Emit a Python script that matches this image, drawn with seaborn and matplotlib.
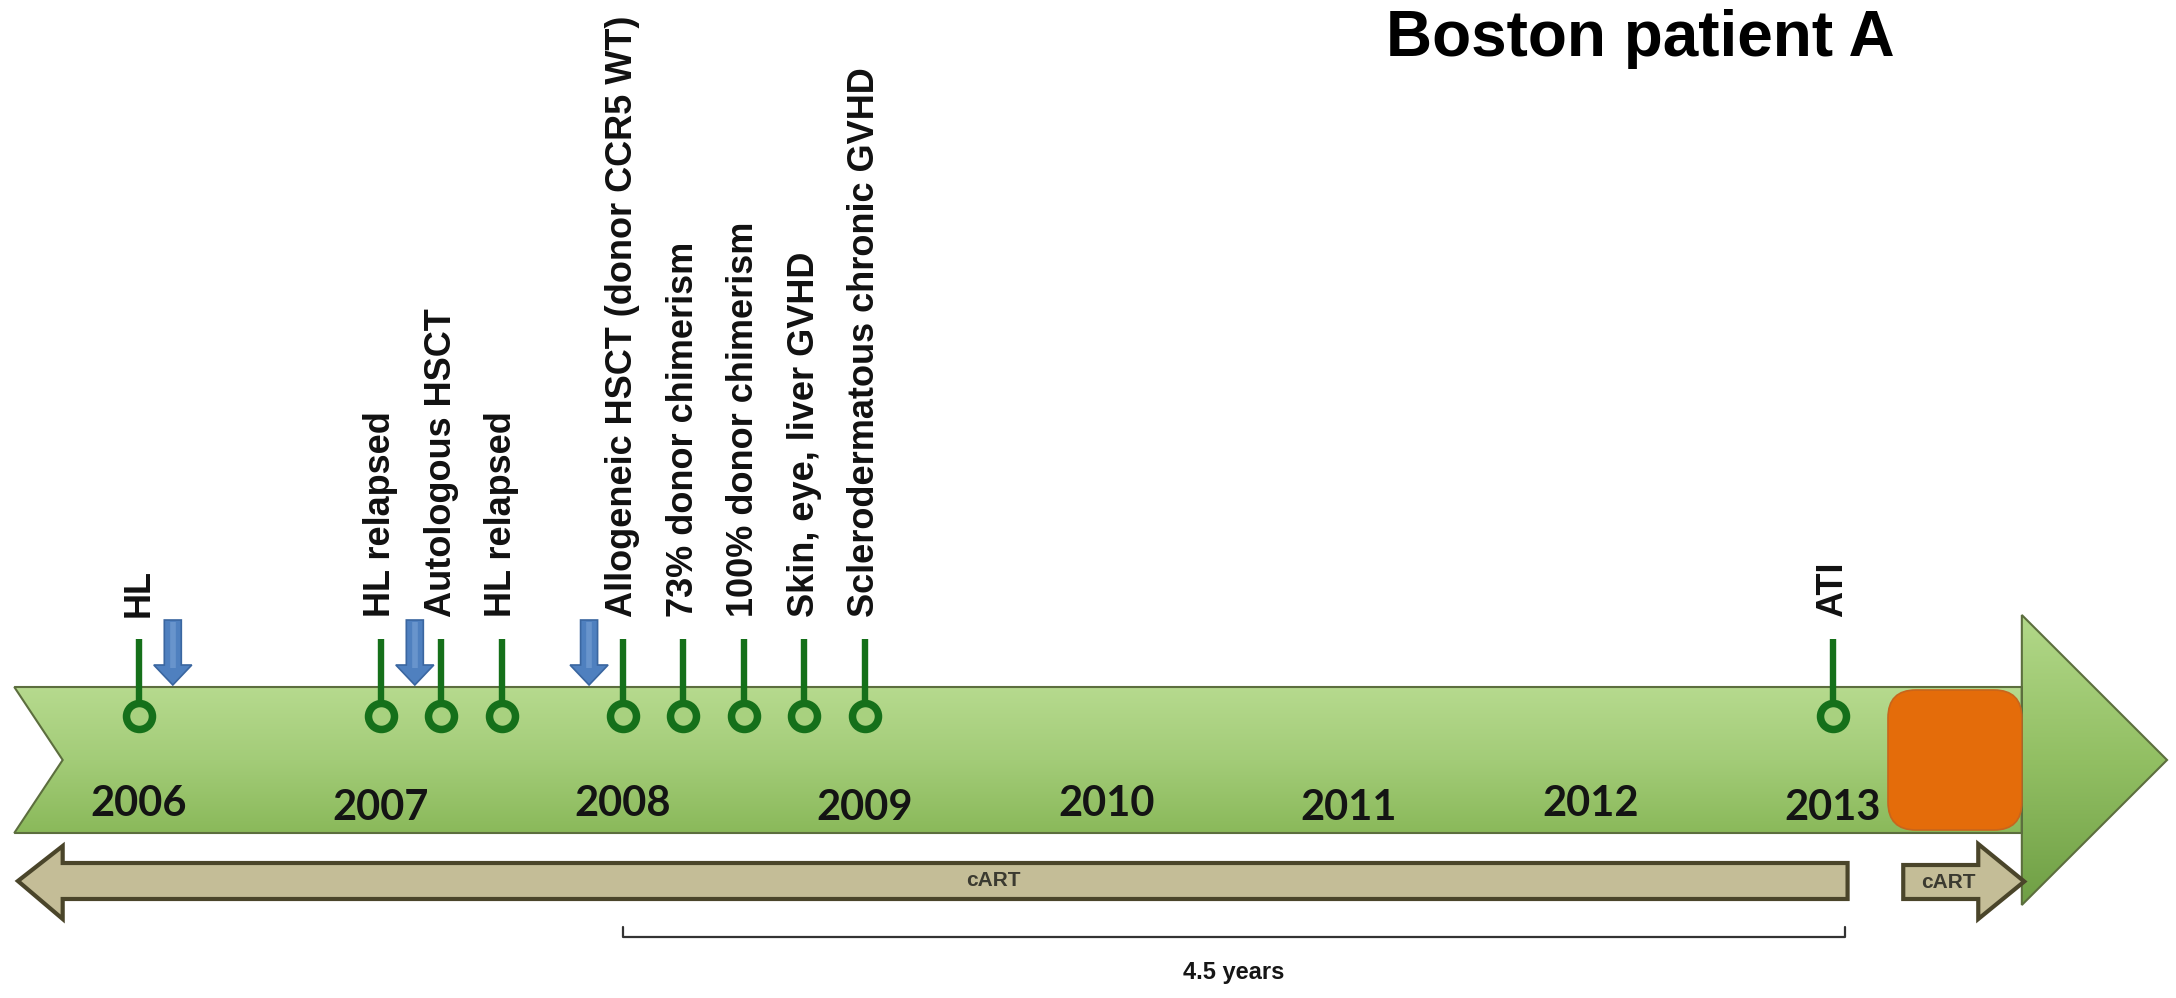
import numpy as np
import matplotlib
matplotlib.use('Agg')
import matplotlib.pyplot as plt
import seaborn as sns
from matplotlib.patches import Polygon, FancyBboxPatch
from matplotlib.colors import LinearSegmentedColormap

sns.set_theme(style='white')
plt.rcParams['font.family'] = ['Liberation Sans', 'DejaVu Sans']

# --- DATA ---
event_labels = ['HL', 'HL relapsed', 'Autologous HSCT', 'HL relapsed',
                'Allogeneic HSCT (donor CCR5 WT)', '73% donor chimerism',
                '100% donor chimerism', 'Skin, eye, liver GVHD',
                'Sclerodermatous chronic GVHD', 'ATI']
event_years = [2006.0, 2007.0, 2007.25, 2007.5, 2008.0, 2008.25,
               2008.5, 2008.75, 2009.0, 2013.0]
blue_arrow_years = [2006.14, 2007.14, 2007.86]
tick_years = [2006, 2007, 2008, 2009, 2010, 2011, 2012, 2013]
cart_period = [2005.5, 2013.06]
cart_resumed = [2013.29, 2013.79]
bracket_period = [2008.0, 2013.05]
bracket_label = '4.5 years'
title = 'Boston patient A'

# --- LAYOUT (x in years, y in pixels from top) ---
W, H = 2176, 998
X0, X1 = 2005.426, 2014.417
PX = (X1 - X0) / W          # years per pixel

band_left, band_notch, band_right, head_tip = 2005.485, 2005.685, 2013.78, 2014.38
band_top, band_bot = 687, 833
band_mid = (band_top + band_bot) / 2
head_top, head_bot = 615, 905

dark_green = '#15701a'
band_cmap = LinearSegmentedColormap.from_list('band', ['#b6da8e', '#a3cc78', '#8ab95a'])
head_cmap = LinearSegmentedColormap.from_list('head', ['#b2d889', '#92bf63', '#6f9f45'])

fig = plt.figure(figsize=(W / 100, H / 100), dpi=100)
ax = fig.add_axes([0, 0, 1, 1])
ax.set_xlim(X0, X1)
ax.set_ylim(H, 0)
ax.axis('off')

grad = np.linspace(0, 1, 256).reshape(-1, 1)

# main green band with notch
band = Polygon([(band_left, band_top), (band_right, band_top), (band_right, band_bot),
                (band_left, band_bot), (band_notch, band_mid)], closed=True,
               facecolor='none', edgecolor='#5c6e3e', lw=1.5, zorder=2)
ax.add_patch(band)
im = ax.imshow(grad, extent=[band_left, band_right, band_bot, band_top],
               cmap=band_cmap, aspect='auto', origin='upper', zorder=1)
im.set_clip_path(band)

# arrow head
head = Polygon([(band_right, head_top), (head_tip, band_mid), (band_right, head_bot)],
               closed=True, facecolor='none', edgecolor='#5c6e3e', lw=1.5, zorder=2)
ax.add_patch(head)
im2 = ax.imshow(grad, extent=[band_right, head_tip, head_bot, head_top],
                cmap=head_cmap, aspect='auto', origin='upper', zorder=1)
im2.set_clip_path(head)

# orange box (after ATI)
box_left = 2013.227
ax.add_patch(FancyBboxPatch((box_left, 690), band_right - box_left, 140,
                            boxstyle='round,pad=0,rounding_size=0.115',
                            mutation_aspect=1 / PX, facecolor='#e46c0a',
                            edgecolor='#c8651c', lw=1.2, zorder=3))

# year labels
for i, yr in enumerate(tick_years):
    ax.text(yr, 804 + (4 if i % 2 else 0), str(yr), ha='center', va='center',
            fontsize=30, fontweight='bold', family=['Lato', 'DejaVu Sans'],
            color='#141414', zorder=4)

# event stems, circles and labels
ax.vlines(event_years, 639, 702, color=dark_green, lw=4.6, zorder=4)
sns.scatterplot(x=event_years, y=[716] * len(event_years), ax=ax, s=350,
                color='#a8d17f', edgecolor=dark_green, linewidth=5.4,
                zorder=5, legend=False)
for yr, lab in zip(event_years, event_labels):
    ax.text(yr, 617, lab, rotation=90, ha='center', va='bottom',
            fontsize=26, fontweight='bold', color='#111111', zorder=6)

# blue arrows
for yr in blue_arrow_years:
    sw, hw = 8.5 * PX, 19 * PX
    pts = [(yr - sw, 620), (yr + sw, 620), (yr + sw, 665), (yr + hw, 665),
           (yr, 685), (yr - hw, 665), (yr - sw, 665)]
    ax.add_patch(Polygon(pts, closed=True, facecolor='#4f80bf',
                         edgecolor='#3a66a0', lw=1.2, zorder=4))
    ax.plot([yr, yr], [622, 668], color='#7aa3d6', lw=4, alpha=0.6,
            solid_capstyle='butt', zorder=4)

# cART arrows
tan, tan_edge = '#c4bd97', '#4a452a'
hb = 2005.685
ax.add_patch(Polygon([(cart_period[0], 881), (hb, 846), (hb, 863), (cart_period[1], 863),
                      (cart_period[1], 899), (hb, 899), (hb, 919)], closed=True,
                     facecolor=tan, edgecolor=tan_edge, lw=3, zorder=3))
ax.text((hb + cart_period[1]) / 2 + 0.16, 881, 'cART', ha='center', va='center',
        fontsize=15, fontweight='bold', color='#3b3a30', zorder=4)

r0, r1 = cart_resumed
rb = r1 - 0.19
ax.add_patch(Polygon([(r0, 865), (rb, 865), (rb, 844), (r1, 881.5), (rb, 919),
                      (rb, 899), (r0, 899)], closed=True,
                     facecolor=tan, edgecolor=tan_edge, lw=3, zorder=3))
ax.text((r0 + rb) / 2 + 0.03, 882, 'cART', ha='center', va='center',
        fontsize=15, fontweight='bold', color='#3b3a30', zorder=4)

# bracket
b0, b1 = bracket_period
ax.plot([b0, b0, b1, b1], [927, 937, 937, 927], color='#333333', lw=1.6, zorder=3)
ax.text((b0 + b1) / 2, 972, bracket_label, ha='center', va='center',
        fontsize=17, fontweight='bold', color='#161616')

# title
ax.text(X0 + 1895 * PX, 9, title, ha='right', va='top', fontsize=46,
        fontweight='bold', color='black')

fig.savefig('out.png', dpi=100, facecolor='white')
